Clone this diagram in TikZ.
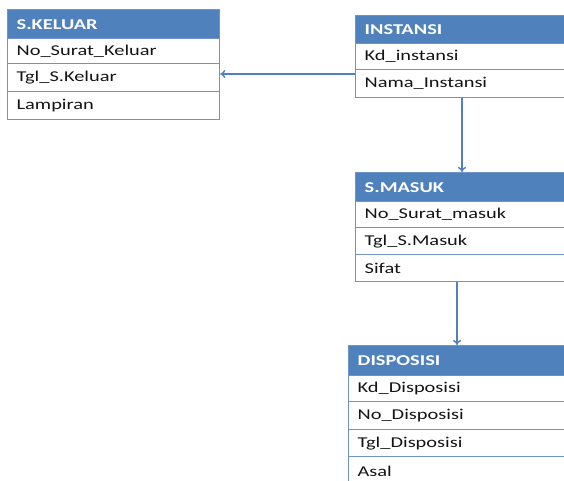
\documentclass[tikz,border=0pt]{standalone}
\usepackage{fontspec}
\setmainfont{Carlito}[FakeStretch=1.36]
\usetikzlibrary{arrows.meta}
\definecolor{hdr}{HTML}{4F81BD}
\definecolor{ln}{HTML}{6F93C6}
\definecolor{txt}{HTML}{141414}
\begin{document}
\begin{tikzpicture}[x=1pt,y=-1pt,
  cell/.style={draw=ln,line width=1.3pt,anchor=north west,text width=#1,inner xsep=9pt,inner ysep=0pt,align=left,text=txt,font=\fontsize{15}{17}\selectfont},
  cell/.default=282pt,
  hcell/.style={cell=#1,fill=hdr,text=white,font=\fontsize{15}{17}\selectfont\bfseries},
  hcell/.default=282pt,
  arr/.style={draw=hdr,line width=1.4pt,-{To[length=5pt,width=8pt]}}]
\useasboundingbox (0,0) rectangle (564,481);
\fill[white] (0,0) rectangle (564,481);
\clip (0,0) rectangle (564,481);
% S.KELUAR
\node[hcell=194pt,minimum height=29pt] (kel0) at (7,9) {S.KELUAR};
\node[cell=194pt,minimum height=25pt] (kel1) at (7,38) {No\_Surat\_Keluar};
\node[cell=194pt,minimum height=28pt] (kel2) at (7,63) {Tgl\_S.Keluar};
\node[cell=194pt,minimum height=28pt] (kel3) at (7,91) {Lampiran};
% INSTANSI
\node[hcell,minimum height=28pt] (inst0) at (355,15) {INSTANSI};
\node[cell,minimum height=26pt] (inst1) at (355,43) {Kd\_instansi};
\node[cell,minimum height=28pt] (inst2) at (355,69) {Nama\_Instansi};
% S.MASUK
\node[hcell,minimum height=29pt] (mas0) at (355,172) {S.MASUK};
\node[cell,minimum height=26pt] (mas1) at (355,201) {No\_Surat\_masuk};
\node[cell,minimum height=27pt] (mas2) at (355,227) {Tgl\_S.Masuk};
\node[cell,minimum height=27pt] (mas3) at (355,254) {Sifat};
% DISPOSISI
\node[hcell,minimum height=30pt] (dis0) at (348,345) {DISPOSISI};
\node[cell,minimum height=26pt] (dis1) at (348,375) {Kd\_Disposisi};
\node[cell,minimum height=28pt] (dis2) at (348,401) {No\_Disposisi};
\node[cell,minimum height=27pt] (dis3) at (348,429) {Tgl\_Disposisi};
\node[cell,minimum height=30pt] (dis4) at (348,456) {Asal};
% connectors
\draw[arr] ([yshift=-5pt]inst2.north west) -- ([yshift=-5pt]inst2.north west -| kel2.east);
\draw[arr] ([xshift=107pt]inst2.south west) -- ([xshift=107pt]mas0.north west);
\draw[arr] ([xshift=102pt]mas3.south west) -- ([xshift=109pt]dis0.north west);
\end{tikzpicture}
\end{document}
